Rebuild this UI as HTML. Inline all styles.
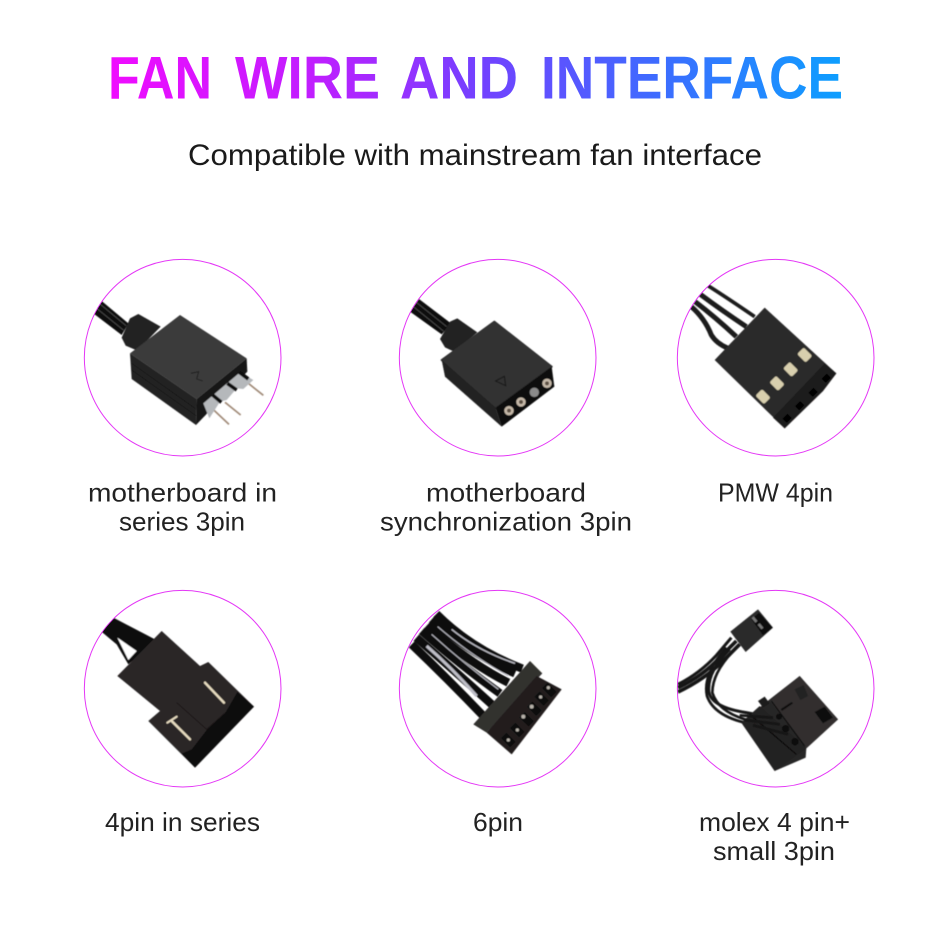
<!DOCTYPE html>
<html lang="en">
<head>
<meta charset="utf-8">
<title>Fan Wire and Interface</title>
<style>
html,body{margin:0;padding:0;background:#fff}
body{width:950px;height:939px;overflow:hidden}
svg{display:block}
text{font-family:"Liberation Sans",sans-serif}
.t{font-size:60px;font-weight:700;fill:url(#tg)}
.s{font-size:30px;fill:#1a1a1a}
.l{font-size:26px;fill:#222}
.ring{fill:none;stroke:#e437f6;stroke-width:3}
</style>
</head>
<body>
<svg width="950" height="939" viewBox="0 0 950 939" xmlns="http://www.w3.org/2000/svg">
<defs>
<linearGradient id="tg" gradientUnits="userSpaceOnUse" x1="108" y1="0" x2="843" y2="0">
<stop offset="0" stop-color="#f00cff"/>
<stop offset=".28" stop-color="#c01eff"/>
<stop offset=".5" stop-color="#7440ff"/>
<stop offset=".75" stop-color="#3d6cff"/>
<stop offset="1" stop-color="#0d9fff"/>
</linearGradient>
<clipPath id="cc"><circle cx="308" cy="308" r="294"/></clipPath>
<filter id="b" x="-5%" y="-5%" width="110%" height="110%"><feGaussianBlur stdDeviation="1.6"/></filter>
</defs>
<rect width="950" height="939" fill="#fff"/>

<text class="t" x="108" y="98.7" textLength="104" lengthAdjust="spacingAndGlyphs">FAN</text>
<text class="t" x="235" y="98.7" textLength="145" lengthAdjust="spacingAndGlyphs">WIRE</text>
<text class="t" x="400" y="98.7" textLength="118" lengthAdjust="spacingAndGlyphs">AND</text>
<text class="t" x="541" y="98.7" textLength="302" lengthAdjust="spacingAndGlyphs">INTERFACE</text>
<text class="s" x="188" y="165" textLength="574" lengthAdjust="spacingAndGlyphs">Compatible with mainstream fan interface</text>

<text class="l" x="88" y="501.7" textLength="189" lengthAdjust="spacingAndGlyphs">motherboard in</text>
<text class="l" x="119" y="530.7" textLength="126" lengthAdjust="spacingAndGlyphs">series 3pin</text>
<text class="l" x="426" y="501.7" textLength="160" lengthAdjust="spacingAndGlyphs">motherboard</text>
<text class="l" x="380" y="530.7" textLength="252" lengthAdjust="spacingAndGlyphs">synchronization 3pin</text>
<text class="l" x="718" y="501.7" textLength="115" lengthAdjust="spacingAndGlyphs">PMW 4pin</text>
<text class="l" x="105" y="831" textLength="155" lengthAdjust="spacingAndGlyphs">4pin in series</text>
<text class="l" x="473" y="831" textLength="50" lengthAdjust="spacingAndGlyphs">6pin</text>
<text class="l" x="699" y="831" textLength="151" lengthAdjust="spacingAndGlyphs">molex 4 pin+</text>
<text class="l" x="713" y="860" textLength="122" lengthAdjust="spacingAndGlyphs">small 3pin</text>

<!-- Connector 1 -->
<g transform="translate(80 255) scale(.33333)">
<circle class="ring" cx="308" cy="308" r="295"/>
<g clip-path="url(#cc)"><g filter="url(#b)">
<polygon points="40,175 65,138 145,205 125,240" fill="#111"/>
<path d="M50,160 L130,225" stroke="#555" stroke-width="2"/>
<path d="M60,147 L138,212" stroke="#555" stroke-width="2"/>
<polygon points="125,248 150,190 175,177 242,215 172,287 137,272" fill="#232323"/>
<path d="M505,385 L550,421 M435,442 L482,480 M400,464 L447,508" stroke="#a08a78" stroke-width="5"/>
<polygon points="150,295 300,180 500,310 350,432" fill="#3a3a3a"/>
<polygon points="150,295 350,432 348,510 155,372" fill="#242424"/>
<path d="M155,325 L348,462 M155,345 L348,482" stroke="#161616" stroke-width="2.5"/>
<polygon points="350,432 500,310 502,350 348,510" fill="#151515"/>
<polygon points="370,445 480,352 520,375 490,402 470,400 440,435 420,440 388,490" fill="#b5b8bb"/>
<path d="M398,420 L424,442 M442,385 L470,405 M478,352 L505,372" stroke="#0d0d0d" stroke-width="11"/>
<path d="M333,355 L356,350 L350,372 L368,378" fill="none" stroke="#1a1a1a" stroke-width="2.5"/>
</g></g>
</g>

<!-- Connector 2 -->
<g transform="translate(395 255) scale(.33333)">
<circle class="ring" cx="308" cy="308" r="295"/>
<g clip-path="url(#cc)"><g filter="url(#b)">
<polygon points="45,170 72,132 168,205 140,238" fill="#111"/>
<path d="M55,155 L145,228 M65,143 L155,215" stroke="#555" stroke-width="2"/>
<polygon points="135,252 165,200 187,190 247,232 177,290 150,277" fill="#232323"/>
<polygon points="140,315 298,200 470,335 302,458" fill="#333" stroke="#333" stroke-width="6" stroke-linejoin="round"/>
<polygon points="140,315 302,458 320,515 150,365" fill="#202020"/>
<polygon points="302,458 470,335 478,395 320,515" fill="#0f0f0f"/>
<circle cx="342" cy="467" r="14" fill="#c5b8a8"/><circle cx="342" cy="467" r="6" fill="#5b4f43"/>
<circle cx="378" cy="441" r="14" fill="#c5b8a8"/><circle cx="378" cy="441" r="6" fill="#5b4f43"/>
<circle cx="418" cy="412" r="14" fill="#8a8a8a"/>
<circle cx="456" cy="385" r="14" fill="#c5b8a8"/><circle cx="456" cy="385" r="6" fill="#5b4f43"/>
<polygon points="302,378 328,364 332,392" fill="none" stroke="#161616" stroke-width="3"/>
</g></g>
</g>

<!-- Connector 3 -->
<g transform="translate(673 255) scale(.33333)">
<circle class="ring" cx="308" cy="308" r="295"/>
<g clip-path="url(#cc)"><g filter="url(#b)">
<g fill="none" stroke="#1a1a1a">
<path d="M105,92 Q165,130 245,185" stroke-width="11"/>
<path d="M82,118 Q145,165 220,215" stroke-width="15"/>
<path d="M66,140 Q125,185 190,245" stroke-width="15"/>
<path d="M55,155 Q95,190 115,240 Q130,265 165,280" stroke-width="15"/>
</g>
<polygon points="125,315 275,158 490,355 450,408 335,520" fill="#2b2a2a"/>
<polygon points="300,488 455,325 490,355 450,408 335,520" fill="#1f1e1e"/>
<g fill="#d8cfae">
<rect x="-18" y="-14" width="36" height="28" rx="6" transform="translate(270 425) rotate(45)"/>
<rect x="-18" y="-14" width="36" height="28" rx="6" transform="translate(312 385) rotate(45)"/>
<rect x="-18" y="-14" width="36" height="28" rx="6" transform="translate(353 343) rotate(45)"/>
<rect x="-18" y="-14" width="36" height="28" rx="6" transform="translate(395 300) rotate(45)"/>
</g>
<g fill="#050505">
<rect x="-11" y="-9" width="22" height="18" transform="translate(342 490) rotate(-45)"/>
<rect x="-11" y="-9" width="22" height="18" transform="translate(380 452) rotate(-45)"/>
<rect x="-11" y="-9" width="22" height="18" transform="translate(420 412) rotate(-45)"/>
<rect x="-11" y="-9" width="22" height="18" transform="translate(460 370) rotate(-45)"/>
</g>
</g></g>
</g>

<!-- Connector 4 -->
<g transform="translate(80 586) scale(.33333)">
<circle class="ring" cx="308" cy="308" r="295"/>
<g clip-path="url(#cc)"><g filter="url(#b)">
<polygon points="62,135 100,95 225,160 180,205 145,235 110,175" fill="#0b0b0b"/>
<polygon points="112,155 170,195 145,222" fill="#fff"/>
<polygon points="112,270 245,135 360,240 385,228 522,362 345,545 205,405 240,375" fill="#2a2628"/>
<polygon points="472,318 522,362 345,545 305,503 335,490 380,432 436,380" fill="#0e0c0d"/>
<path d="M290,350 L380,430 L436,380" stroke="#1a1718" stroke-width="3" fill="none"/>
<path d="M375,290 L432,350" stroke="#e7dcc0" stroke-width="7" stroke-linecap="round"/>
<path d="M275,405 L330,460" stroke="#e7dcc0" stroke-width="7" stroke-linecap="round"/>
<path d="M262,410 L290,392" stroke="#e7dcc0" stroke-width="6" stroke-linecap="round"/>
</g></g>
</g>

<!-- Connector 5 -->
<g transform="translate(395 586) scale(.33333)">
<circle class="ring" cx="308" cy="308" r="295"/>
<g clip-path="url(#cc)"><g filter="url(#b)">
<g fill="none" stroke="#101010" stroke-width="25">
<path d="M50,175 Q160,280 265,390"/>
<path d="M64,155 Q180,255 290,355"/>
<path d="M80,135 Q200,240 315,322"/>
<path d="M96,118 Q220,230 340,290"/>
<path d="M110,100 Q230,205 360,262"/>
<path d="M124,84 Q230,190 382,248"/>
</g>
<g fill="none" stroke="#bdbdc6" stroke-width="3">
<path d="M95,180 Q170,245 245,330" stroke-width="9"/>
<path d="M110,145 Q210,235 310,310"/>
<path d="M128,122 Q230,210 340,270"/>
<path d="M170,130 Q250,195 360,232" stroke-width="4"/>
</g>
<polygon points="235,415 405,225 442,262 275,440" fill="#33302f"/>
<polygon points="275,440 425,270 500,310 350,505" fill="#201d1c"/>
<g fill="#0a0a0a">
<rect x="-19" y="-11" width="38" height="22" transform="translate(340 462) rotate(45)"/>
<rect x="-19" y="-11" width="38" height="22" transform="translate(367 432) rotate(45)"/>
<rect x="-19" y="-11" width="38" height="22" transform="translate(395 400) rotate(45)"/>
<rect x="-19" y="-11" width="38" height="22" transform="translate(418 368) rotate(45)"/>
<rect x="-19" y="-11" width="38" height="22" transform="translate(440 338) rotate(45)"/>
<rect x="-19" y="-11" width="38" height="22" transform="translate(463 312) rotate(45)"/>
</g>
<g fill="#b7b2aa">
<circle cx="340" cy="462" r="5"/><circle cx="367" cy="432" r="5"/><circle cx="385" cy="392" r="6"/>
<circle cx="410" cy="362" r="6"/><circle cx="437" cy="333" r="5"/><circle cx="460" cy="305" r="5"/>
</g>
</g></g>
</g>

<!-- Connector 6 -->
<g transform="translate(673 586) scale(.33333)">
<circle class="ring" cx="308" cy="308" r="295"/>
<g clip-path="url(#cc)"><g filter="url(#b)">
<g fill="none" stroke="#141414">
<path d="M15,305 Q90,270 140,215 L190,165" stroke-width="11"/>
<path d="M15,318 Q95,280 150,225 L200,175" stroke-width="11"/>
<path d="M15,295 Q80,262 130,208 L175,155" stroke-width="9"/>
<path d="M170,190 Q100,260 108,320 Q120,365 220,380 L300,395" stroke-width="9"/>
<path d="M178,198 Q118,262 118,320 Q135,375 215,400 L320,415" stroke-width="8"/>
<path d="M160,185 Q88,265 102,330 Q125,395 240,415 L345,445" stroke-width="8"/>
</g>
<polygon points="172,137 255,70 300,125 218,198" fill="#2b2b2b"/>
<polygon points="235,100 258,80 298,125 270,148" fill="#0f0f0f"/>
<g fill="#777"><rect x="240" y="92" width="8" height="18" transform="rotate(-40 244 100)"/><rect x="258" y="112" width="8" height="18" transform="rotate(-40 262 120)"/></g>
<polygon points="205,410 290,340 380,270 495,400 400,487 398,515 305,555" fill="#272525"/>
<polygon points="205,410 260,360 400,487 305,555" fill="#232121"/>
<polygon points="290,345 380,270 495,400 400,487" fill="#312f2f"/>
<path d="M230,385 L370,505 M295,345 L395,480" stroke="#111" stroke-width="4"/>
<polygon points="425,378 455,362 480,395 450,412" fill="#111"/>
<polygon points="365,310 392,298 405,330 382,342" fill="#232121"/>
<path d="M325,372 L358,350" stroke="#0c0c0c" stroke-width="6"/>
<polygon points="255,345 275,332 290,352 270,365" fill="#1a1a1a"/>
<g fill="#080808"><circle cx="338" cy="428" r="11"/><circle cx="366" cy="467" r="11"/><circle cx="318" cy="392" r="9"/></g>
<path d="M200,388 L300,395 M215,402 L320,415 M240,418 L345,445" stroke="#141414" stroke-width="8" fill="none"/>
</g></g>
</g>
</svg>
</body>
</html>
